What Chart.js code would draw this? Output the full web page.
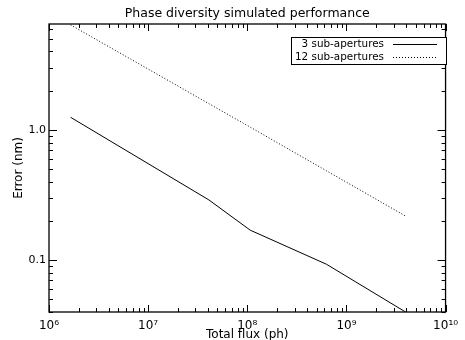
<!DOCTYPE html>
<html>
<head>
<meta charset="utf-8">
<script src="https://cdn.jsdelivr.net/npm/chart.js@4/dist/chart.umd.min.js"></script>
<style>
  html, body { margin: 0; padding: 0; background: #fff; }
  canvas { display: block; }
</style>
</head>
<body>
<canvas id="chart" width="465" height="340"></canvas>
<script>
// values
const flux = [1.65e6, 4.1e7, 1.07e8, 6.3e8, 3.95e9];
const error3 = [1.25, 0.29, 0.17, 0.093, 0.04];
const error12 = [6.4, 1.59, 1.05, 0.485, 0.218];
const seriesLabels = ['3 sub-apertures', '12 sub-apertures'];

// axes
const xMajor = [1e6, 1e7, 1e8, 1e9, 1e10];
const xTickLabels = ['10⁶', '10⁷', '10⁸', '10⁹', '10¹⁰'];
const yDecades = [0.01, 0.1, 1];
const yMajor = [0.1, 1];
const yTickLabels = ['0.1', '1.0'];
const minorSteps = [2, 3, 4, 5, 6, 7, 8, 9];
const xRange = [1e6, 1e10];
const yRange = [0.04, 6.5];

const FONT = "'DejaVu Sans', sans-serif";

function near(a, b) {
    return Math.abs(a - b) / b < 1e-6;
}

function buildTicks(decades, majors, min, max) {
    const ticks = [];
    decades.forEach(d => {
        if (d >= min && d <= max) ticks.push({ value: d, big: majors.some(m => near(m, d)) });
        minorSteps.forEach(s => {
            const v = d * s;
            if (v >= min && v <= max) ticks.push({ value: v, big: false });
        });
    });
    majors.forEach(m => {
        if (!ticks.some(t => near(t.value, m))) ticks.push({ value: m, big: true });
    });
    return ticks.sort((a, b) => a.value - b.value);
}

function labelFor(value, majors, labels) {
    const i = majors.findIndex(m => near(m, value));
    return i >= 0 ? labels[i] : '';
}

// ticks pointing inward on all four sides, plus the frame
const boxTicks = {
    id: 'boxTicks',
    afterDatasetsDraw(chart) {
        const { ctx, chartArea: a, scales: { x, y } } = chart;
        ctx.save();
        ctx.strokeStyle = '#000';
        ctx.lineWidth = 1;
        ctx.beginPath();
        x.ticks.forEach(t => {
            const px = Math.round(x.getPixelForValue(t.value)) + 0.5;
            const len = t.big ? 7 : 4;
            ctx.moveTo(px, a.bottom);
            ctx.lineTo(px, a.bottom - len);
            ctx.moveTo(px, a.top);
            ctx.lineTo(px, a.top + len);
        });
        y.ticks.forEach(t => {
            const py = Math.round(y.getPixelForValue(t.value)) + 0.5;
            const len = t.big ? 8 : 4;
            ctx.moveTo(a.left, py);
            ctx.lineTo(a.left + len, py);
            ctx.moveTo(a.right, py);
            ctx.lineTo(a.right - len, py);
        });
        ctx.stroke();
        ctx.lineWidth = 1.3;
        ctx.strokeRect(a.left, a.top, a.right - a.left, a.bottom - a.top);
        ctx.restore();
    }
};

// boxed legend inside the plot, top right
const boxLegend = {
    id: 'boxLegend',
    afterDraw(chart) {
        const { ctx } = chart;
        const box = { left: 291.5, top: 37.5, width: 155, height: 27 };
        const rows = [44.5, 57.5];
        ctx.save();
        ctx.fillStyle = '#fff';
        ctx.fillRect(box.left, box.top, box.width, box.height);
        ctx.strokeStyle = '#000';
        ctx.lineWidth = 1;
        ctx.strokeRect(box.left, box.top, box.width, box.height);
        ctx.font = '10.4px ' + FONT;
        ctx.textAlign = 'right';
        ctx.textBaseline = 'middle';
        chart.data.datasets.forEach((ds, i) => {
            ctx.fillStyle = '#000';
            ctx.fillText(ds.label, 384, rows[i]);
            ctx.strokeStyle = ds.borderColor;
            ctx.lineWidth = ds.borderWidth;
            ctx.setLineDash(ds.borderDash || []);
            ctx.beginPath();
            ctx.moveTo(393, rows[i]);
            ctx.lineTo(437, rows[i]);
            ctx.stroke();
            ctx.setLineDash([]);
        });
        ctx.restore();
    }
};

new Chart(document.getElementById('chart'), {
    type: 'line',
    data: {
        datasets: [
            {
                label: seriesLabels[0],
                data: flux.map((f, i) => ({ x: f, y: error3[i] })),
                borderColor: '#000',
                borderWidth: 1,
                pointRadius: 0,
                tension: 0
            },
            {
                label: seriesLabels[1],
                data: flux.map((f, i) => ({ x: f, y: error12[i] })),
                borderColor: '#000',
                borderWidth: 1,
                borderDash: [1, 2],
                pointRadius: 0,
                tension: 0
            }
        ]
    },
    options: {
        responsive: false,
        animation: false,
        devicePixelRatio: 1,
        layout: { padding: { left: 0, right: 10, top: 0, bottom: 0 } },
        plugins: {
            legend: { display: false },
            tooltip: { enabled: false },
            title: {
                display: true,
                fullSize: false,
                text: 'Phase diversity simulated performance',
                color: '#000',
                font: { family: FONT, size: 12.5, weight: 'normal', lineHeight: 1.2 },
                padding: { top: 6.5, bottom: 2.5 }
            }
        },
        scales: {
            x: {
                type: 'logarithmic',
                min: xRange[0],
                max: xRange[1],
                grid: { display: false, drawTicks: false },
                border: { display: false },
                afterBuildTicks: s => { s.ticks = buildTicks(xMajor, xMajor, xRange[0], xRange[1]); },
                afterFit: s => { s.height = 28; },
                ticks: {
                    autoSkip: false,
                    maxRotation: 0,
                    padding: 7,
                    color: '#000',
                    font: { family: FONT, size: 12 },
                    callback: v => labelFor(v, xMajor, xTickLabels)
                },
                title: {
                    display: true,
                    text: 'Total flux (ph)',
                    color: '#000',
                    font: { family: FONT, size: 12 },
                    padding: { top: 0, bottom: -2 }
                }
            },
            y: {
                type: 'logarithmic',
                min: yRange[0],
                max: yRange[1],
                grid: { display: false, drawTicks: false },
                border: { display: false },
                afterBuildTicks: s => { s.ticks = buildTicks(yDecades, yMajor, yRange[0], yRange[1]); },
                afterFit: s => { s.width = 49; },
                ticks: {
                    autoSkip: false,
                    padding: 3,
                    color: '#000',
                    font: { family: FONT, size: 11 },
                    callback: v => labelFor(v, yMajor, yTickLabels)
                },
                title: {
                    display: true,
                    text: 'Error (nm)',
                    color: '#000',
                    font: { family: FONT, size: 12 },
                    padding: { top: 12, bottom: 0 }
                }
            }
        }
    },
    plugins: [boxTicks, boxLegend]
});
</script>
</body>
</html>
